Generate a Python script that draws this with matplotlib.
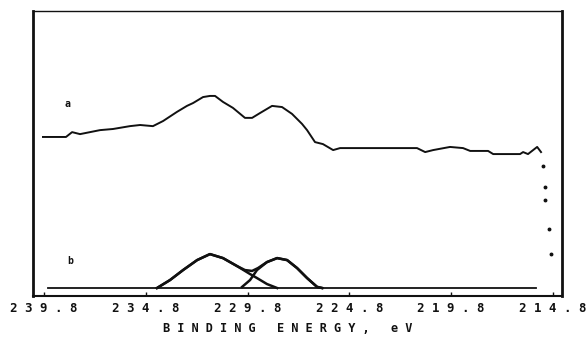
import matplotlib
matplotlib.use('Agg')
import matplotlib.pyplot as plt
import numpy as np

# spectrum a (measured), binding energy in eV vs intensity (arb.)
a_energy = [239.85, 238.72, 238.42, 238.03, 237.54, 237.05, 236.41, 235.58, 235.08,
            234.45, 233.95, 233.27, 232.78, 232.48, 231.99, 231.65, 231.40, 231.01,
            230.52, 229.93, 229.58, 229.19, 228.60, 228.11, 227.62, 227.13, 226.88,
            226.49, 226.10, 225.60, 225.26, 224.43, 224.13, 221.48, 221.08, 220.69,
            219.86, 219.22, 218.87, 217.99, 217.74, 216.42, 216.27, 216.03, 215.58,
            215.39]
a_counts = [55.8, 55.8, 57.5, 56.8, 57.5, 58.2, 58.6, 59.6, 60.0,
            59.6, 61.4, 64.6, 66.7, 67.7, 69.8, 70.2, 70.2, 68.1,
            66.0, 62.5, 62.5, 64.2, 66.7, 66.3, 63.9, 60.4, 58.2,
            54.0, 53.3, 51.2, 51.9, 51.9, 51.9, 51.9, 50.5, 51.2,
            52.3, 51.9, 50.9, 50.9, 49.8, 49.8, 50.5, 49.8, 52.3,
            50.5]
# stray dots at the end of scan a
dots_energy = [215.29, 215.19, 215.19, 215.00, 214.90]
dots_counts = [45.6, 38.2, 33.7, 23.5, 14.7]

# spectrum b (fit): baseline and two components plus envelope
base_energy = [239.60, 215.63]
base_counts = [2.8, 2.8]
c1_energy = [234.25, 233.61, 232.97, 232.28, 231.65, 231.01, 230.32, 229.68, 229.34, 228.85, 228.35]
c1_counts = [2.8, 5.6, 9.1, 12.6, 14.7, 13.3, 10.5, 7.7, 6.3, 4.2, 2.8]
c2_energy = [230.07, 229.68, 229.34, 228.85, 228.35, 227.86, 227.37, 226.88, 226.39, 226.14]
c2_counts = [3.2, 5.6, 9.1, 11.9, 13.3, 12.6, 9.8, 6.3, 3.2, 2.8]
env_energy = [234.25, 233.61, 232.97, 232.28, 231.65, 231.01, 230.32, 229.93, 229.58, 229.29,
              228.85, 228.35, 227.86, 227.37, 226.88, 226.39, 226.14]
env_counts = [2.8, 5.6, 9.1, 12.6, 14.7, 13.3, 10.5, 9.1, 8.8, 9.8,
              11.9, 13.3, 12.6, 9.8, 6.3, 3.2, 2.8]

tick_values = [239.8, 234.8, 229.8, 224.8, 219.8, 214.8]

ink = '#111111'
mono = 'DejaVu Sans Mono'

fig = plt.figure(figsize=(5.88, 3.38), dpi=100)
ax = fig.add_axes([33 / 588, 42 / 338, 529 / 588, 285 / 338])

ax.plot(a_energy, a_counts, color=ink, lw=1.4)
ax.plot(dots_energy, dots_counts, 'o', color=ink, ms=1.8)
ax.plot(base_energy, base_counts, color=ink, lw=1.3)
ax.plot(c1_energy, c1_counts, color=ink, lw=1.8)
ax.plot(c2_energy, c2_counts, color=ink, lw=1.8)
ax.plot(env_energy, env_counts, color=ink, lw=1.8)

ax.set_xlim(240.34, 214.36)
ax.set_ylim(0, 100)

ax.set_xticks(tick_values)
ax.set_xticklabels([' '.join(f'{v:.1f}') for v in tick_values],
                   fontfamily=mono, fontweight='bold', fontsize=8.9)
ax.tick_params(axis='x', direction='in', length=3, width=1, pad=4, colors=ink)
ax.set_yticks([])

# axis title sits close under the tick labels
fig.text(288 / 588, 9 / 338, 'B I N D I N G   E N E R G Y ,   e V', fontfamily=mono,
         fontweight='bold', fontsize=8.6, color=ink, ha='center', va='center')

for side, w in [('left', 2.0), ('right', 2.0), ('top', 1.0), ('bottom', 1.5)]:
    ax.spines[side].set_linewidth(w)
    ax.spines[side].set_color(ink)

ax.text(238.65, 67.5, 'a', fontfamily=mono, fontweight='bold', fontsize=7, color=ink,
        ha='center', va='center')
ax.text(238.5, 12.3, 'b', fontfamily=mono, fontweight='bold', fontsize=7, color=ink,
        ha='center', va='center')

fig.savefig('out.png', dpi=100, facecolor='white')
